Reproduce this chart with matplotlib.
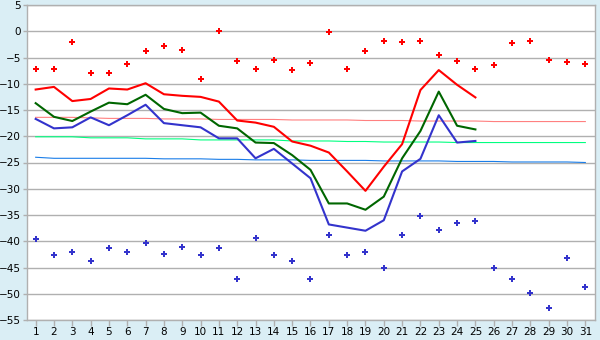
import matplotlib
matplotlib.use("Agg")
import matplotlib.pyplot as plt

days = list(range(1, 32))
obs_days = list(range(1, 26))

rec_max = [-7.2, -7.1, -2.1, -8.0, -8.0, -6.3, -3.8, -2.9, -3.6, -9.0, 0.0, -5.7, -7.1, -5.5, -7.3, -6.1,
           -0.2, -7.1, -3.8, -1.9, -2.1, -1.9, -4.6, -5.7, -7.1, -6.5, -2.3, -1.9, -5.5, -5.9, -6.3]
rec_min = [-39.6, -42.7, -42.1, -43.8, -41.2, -42.1, -40.4, -42.5, -41.0, -42.7, -41.2, -47.2, -39.3, -42.7,
           -43.8, -47.2, -38.9, -42.7, -42.1, -45.0, -38.9, -35.1, -37.9, -36.6, -36.2, -45.0, -47.2, -49.9,
           -52.8, -43.1, -48.8]
tmax = [-11.1, -10.6, -13.3, -12.9, -10.9, -11.1, -9.9, -12.0, -12.3, -12.5, -13.4, -17.0, -17.4, -18.2,
        -21.0, -21.8, -23.1, -26.7, -30.4, -25.8, -21.5, -11.2, -7.4, -10.2, -12.6]
tmean = [-13.7, -16.3, -17.1, -15.3, -13.6, -13.9, -12.1, -14.8, -15.6, -15.5, -18.0, -18.5, -21.2, -21.3,
         -23.6, -26.4, -32.8, -32.8, -34.0, -31.5, -24.2, -19.0, -11.5, -18.0, -18.7]
tmin = [-16.7, -18.5, -18.3, -16.4, -17.9, -16.0, -14.0, -17.5, -17.9, -18.3, -20.4, -20.4, -24.2, -22.4,
        -25.2, -28.0, -36.8, -37.4, -38.0, -36.0, -26.7, -24.3, -16.0, -21.2, -20.9]
norm_max = [-16.4, -16.4, -16.4, -16.5, -16.6, -16.6, -16.6, -16.7, -16.7, -16.7, -16.8, -16.8, -16.8, -16.8,
            -16.9, -16.9, -16.9, -16.9, -17.0, -17.0, -17.0, -17.1, -17.1, -17.1, -17.1, -17.2, -17.2, -17.2,
            -17.2, -17.2, -17.2]
norm_mean = [-20.1, -20.1, -20.1, -20.3, -20.3, -20.3, -20.5, -20.5, -20.5, -20.7, -20.7, -20.7, -20.7, -20.7,
             -20.9, -20.9, -20.9, -21.0, -21.0, -21.1, -21.1, -21.1, -21.1, -21.2, -21.2, -21.2, -21.2, -21.2,
             -21.2, -21.2, -21.2]
norm_min = [-24.0, -24.2, -24.2, -24.2, -24.2, -24.2, -24.2, -24.3, -24.3, -24.3, -24.4, -24.4, -24.5, -24.5,
            -24.5, -24.6, -24.6, -24.6, -24.6, -24.7, -24.7, -24.7, -24.7, -24.8, -24.8, -24.8, -24.9, -24.9,
            -24.9, -24.9, -25.0]
yticks = list(range(-55, 10, 5))

bg = "#daeef5"
grid_c = "#b0b0b0"

fig = plt.figure(figsize=(6, 3.4), dpi=100, facecolor=bg)
ax = fig.add_axes([26.5 / 600, 20 / 340, 568 / 600, 315 / 340])
ax.set_facecolor("white")

for y in yticks:
    ax.axhline(y, color=grid_c, lw=1.0, zorder=1)

ax.plot(days, norm_max, color="#ff8080", lw=0.8, zorder=2)
ax.plot(days, norm_mean, color="#00ff80", lw=0.8, zorder=2)
ax.plot(days, norm_min, color="#1a7de8", lw=0.8, zorder=2)

ax.plot(obs_days, tmax, color="#ff0000", lw=1.5, zorder=3)
ax.plot(obs_days, tmean, color="#006600", lw=1.5, zorder=3)
ax.plot(obs_days, tmin, color="#3333cc", lw=1.5, zorder=3)

ax.plot(days, rec_max, ls="none", marker="P", ms=4, color="#ff0000", mew=0, zorder=4)
ax.plot(days, rec_min, ls="none", marker="P", ms=4, color="#3333cc", mew=0, zorder=4)

ax.set_xlim(0.5, 31.5)
ax.set_ylim(-55, 5)
ax.set_xticks(days)
ax.set_xticklabels([str(d) for d in days])
ax.set_yticks(yticks)
ax.set_yticklabels([str(y).replace("-", "\u2212") for y in yticks])
ax.tick_params(axis="both", labelsize=7.5, color=grid_c, width=1, pad=1)
ax.tick_params(axis="x", length=4)
ax.tick_params(axis="y", length=3)
for s in ax.spines.values():
    s.set_color(grid_c)
    s.set_linewidth(1.0)

fig.savefig("out.png", dpi=100, facecolor=bg)
